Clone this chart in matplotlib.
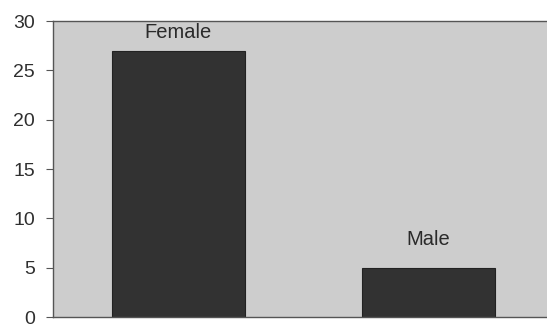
import matplotlib.pyplot as plt

categories = ["Female", "Male"]
counts = [27, 5]
yticks = [0, 5, 10, 15, 20, 25, 30]

plt.rcParams["font.family"] = ["Liberation Sans", "DejaVu Sans"]

fig = plt.figure(figsize=(5.47, 3.27), dpi=100)
fig.patch.set_facecolor("white")
# plot area runs a little past the right edge of the figure
ax = fig.add_axes([53 / 547, 10 / 327, 501 / 547, 296 / 327])
ax.set_facecolor("#cdcdcd")

x = list(range(len(categories)))
bars = ax.bar(x, counts, width=0.53, color="#323232", edgecolor="#222222", linewidth=0.8)

# category names sit above each bar
label_offsets = [13, 20]
for xi, name, val, off in zip(x, categories, counts, label_offsets):
    ax.annotate(name, (xi, val), xytext=(0, off), textcoords="offset points",
                ha="center", va="center", fontsize=14.5, color="#2a2a2a")

ax.set_xlim(-0.5, 1.5)
ax.set_ylim(0, 30)
ax.set_yticks(yticks)
ax.set_xticks([])
ax.tick_params(axis="y", direction="out", length=5, width=0.8, color="#555555",
               labelsize=14, labelcolor="#2f2f2f", pad=8)

for side in ("left", "top", "bottom", "right"):
    ax.spines[side].set_color("#555555")
    ax.spines[side].set_linewidth(1.0)

fig.savefig("out.png", dpi=100)
